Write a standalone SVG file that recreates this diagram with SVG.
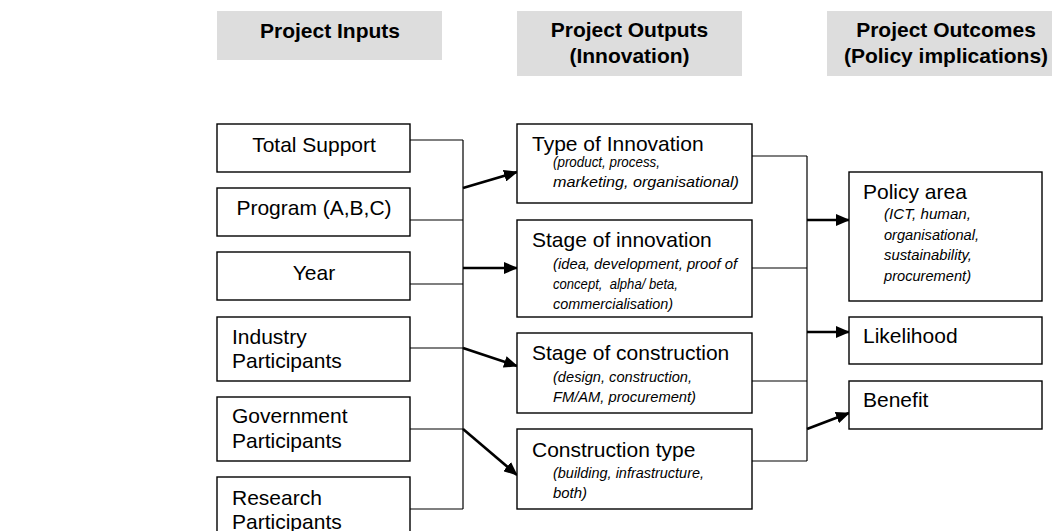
<svg xmlns="http://www.w3.org/2000/svg" width="1052" height="531" viewBox="0 0 1052 531">
<style>
  .hdr{fill:#dddddd;stroke:none}
  .ht{font-family:"Liberation Sans",Arial,sans-serif;font-weight:bold;font-size:21px;fill:#000;text-anchor:middle}
  .box{fill:#fff;stroke:#000;stroke-width:1.4}
  .t{font-family:"Liberation Sans",Arial,sans-serif;font-size:21px;fill:#000}
  .c{text-anchor:middle}
  .it{font-family:"Liberation Sans",Arial,sans-serif;font-style:italic;font-size:15px;fill:#000}
  .ln{fill:none;stroke:#000;stroke-width:1.2}
  .ar{fill:none;stroke:#000;stroke-width:2.6;marker-end:url(#ah)}
</style>
<defs>
  <marker id="ah" markerUnits="userSpaceOnUse" markerWidth="14" markerHeight="12" refX="13" refY="6" orient="auto" viewBox="0 0 14 12">
    <path d="M0,0 L14,6 L0,12 z" fill="#000"/>
  </marker>
</defs>
<rect width="1052" height="531" fill="#fff"/>
<g id="header-inputs">
  <rect class="hdr" x="217" y="11" width="225" height="49"/>
  <text class="ht" x="330" y="38">Project Inputs</text>
</g>
<g id="header-outputs">
  <rect class="hdr" x="517" y="11" width="225" height="65"/>
  <text class="ht" x="629.5" y="37">Project Outputs</text>
  <text class="ht" x="629.5" y="63">(Innovation)</text>
</g>
<g id="header-outcomes">
  <rect class="hdr" x="827" y="11" width="225" height="65"/>
  <text class="ht" x="946" y="37">Project Outcomes</text>
  <text class="ht" x="946" y="63">(Policy implications)</text>
</g>
<g id="connectors">
  <path class="ln" d="M410,140 H463 M410,220 H463 M410,284 H463 M410,348 H463 M410,429 H463 M410,509 H463 M463,140 V509"/>
  <path class="ln" d="M752,156 H807 M752,268 H807 M752,381 H807 M752,461 H807 M807,156 V461"/>
  <line class="ar" x1="463" y1="188" x2="517" y2="172"/>
  <line class="ar" x1="463" y1="268" x2="517" y2="268"/>
  <line class="ar" x1="463" y1="348" x2="517" y2="366"/>
  <line class="ar" x1="463" y1="429" x2="517" y2="475"/>
  <line class="ar" x1="807" y1="220" x2="849" y2="220"/>
  <line class="ar" x1="807" y1="332" x2="849" y2="332"/>
  <line class="ar" x1="807" y1="429" x2="849" y2="413"/>
</g>
<g id="total-support">
  <rect class="box" x="217" y="124" width="193" height="48"/>
  <text class="t c" x="314" y="152">Total Support</text>
</g>
<g id="program">
  <rect class="box" x="217" y="188" width="193" height="48"/>
  <text class="t c" x="314" y="215">Program (A,B,C)</text>
</g>
<g id="year">
  <rect class="box" x="217" y="252" width="193" height="48"/>
  <text class="t c" x="314" y="280">Year</text>
</g>
<g id="industry">
  <rect class="box" x="217" y="317" width="193" height="64"/>
  <text class="t" x="232" y="344">Industry</text>
  <text class="t" x="232" y="368">Participants</text>
</g>
<g id="government">
  <rect class="box" x="217" y="397" width="193" height="64"/>
  <text class="t" x="232" y="423">Government</text>
  <text class="t" x="232" y="448">Participants</text>
</g>
<g id="research">
  <rect class="box" x="217" y="477" width="193" height="64"/>
  <text class="t" x="232" y="505">Research</text>
  <text class="t" x="232" y="529">Participants</text>
</g>
<g id="type-of-innovation">
  <rect class="box" x="517" y="124" width="235" height="79"/>
  <text class="t" x="532" y="151">Type of Innovation</text>
  <text class="it" x="553" y="167" textLength="107" lengthAdjust="spacingAndGlyphs">(product, process,</text>
  <text class="it" x="553" y="187" textLength="186" lengthAdjust="spacingAndGlyphs">marketing, organisational)</text>
</g>
<g id="stage-of-innovation">
  <rect class="box" x="517" y="220" width="235" height="97"/>
  <text class="t" x="532" y="247">Stage of innovation</text>
  <text class="it" x="553" y="269" textLength="184" lengthAdjust="spacingAndGlyphs">(idea, development, proof of</text>
  <text class="it" x="553" y="289" textLength="125" lengthAdjust="spacingAndGlyphs" xml:space="preserve">concept,  alpha/ beta,</text>
  <text class="it" x="553" y="309" textLength="120" lengthAdjust="spacingAndGlyphs">commercialisation)</text>
</g>
<g id="stage-of-construction">
  <rect class="box" x="517" y="333" width="235" height="80"/>
  <text class="t" x="532" y="360">Stage of construction</text>
  <text class="it" x="553" y="382" textLength="139" lengthAdjust="spacingAndGlyphs">(design, construction,</text>
  <text class="it" x="553" y="402" textLength="143" lengthAdjust="spacingAndGlyphs">FM/AM, procurement)</text>
</g>
<g id="construction-type">
  <rect class="box" x="517" y="429" width="235" height="80"/>
  <text class="t" x="532" y="457">Construction type</text>
  <text class="it" x="553" y="478" textLength="151" lengthAdjust="spacingAndGlyphs">(building, infrastructure,</text>
  <text class="it" x="553" y="498" textLength="34" lengthAdjust="spacingAndGlyphs">both)</text>
</g>
<g id="policy-area">
  <rect class="box" x="849" y="172" width="193" height="129"/>
  <text class="t" x="863" y="199">Policy area</text>
  <text class="it" x="884" y="219" textLength="87" lengthAdjust="spacingAndGlyphs">(ICT, human,</text>
  <text class="it" x="884" y="240" textLength="95" lengthAdjust="spacingAndGlyphs">organisational,</text>
  <text class="it" x="884" y="260" textLength="88" lengthAdjust="spacingAndGlyphs">sustainability,</text>
  <text class="it" x="884" y="281" textLength="87" lengthAdjust="spacingAndGlyphs">procurement)</text>
</g>
<g id="likelihood">
  <rect class="box" x="849" y="317" width="193" height="47"/>
  <text class="t" x="863" y="343">Likelihood</text>
</g>
<g id="benefit">
  <rect class="box" x="849" y="381" width="193" height="48"/>
  <text class="t" x="863" y="407">Benefit</text>
</g>
</svg>
